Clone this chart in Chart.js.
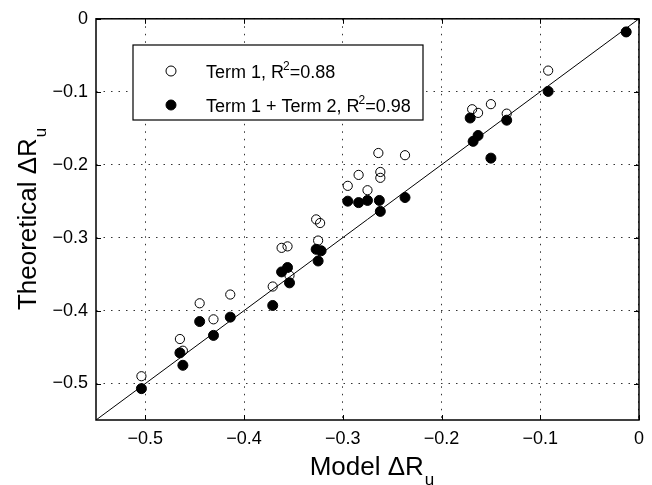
<!DOCTYPE html>
<html>
<head>
<meta charset="utf-8">
<script src="https://cdn.jsdelivr.net/npm/chart.js@4.4.1/dist/chart.umd.min.js"></script>
<style>
  html, body { margin: 0; padding: 0; background: #fff; }
  #wrap { width: 652px; height: 485px; }
</style>
</head>
<body>
<div id="wrap"><canvas id="myChart" width="652" height="485"></canvas></div>
<script>
// Term 1 only (open circles)
const term1X = [-0.504, -0.465, -0.462, -0.445, -0.431, -0.414, -0.371, -0.362, -0.356, -0.354,
                -0.327, -0.323, -0.325, -0.295, -0.284, -0.275, -0.264, -0.262, -0.262, -0.237,
                -0.169, -0.163, -0.150, -0.134, -0.092, -0.013];
const term1Y = [-0.490, -0.439, -0.455, -0.390, -0.412, -0.378, -0.367, -0.314, -0.312, -0.352,
                -0.275, -0.280, -0.304, -0.229, -0.214, -0.235, -0.184, -0.210, -0.218, -0.187,
                -0.124, -0.129, -0.117, -0.130, -0.071, -0.018];
// Term 1 + Term 2 (filled circles)
const term12X = [-0.504, -0.465, -0.462, -0.445, -0.431, -0.414, -0.371, -0.362, -0.356, -0.354,
                 -0.327, -0.322, -0.325, -0.295, -0.284, -0.275, -0.263, -0.262, -0.237,
                 -0.171, -0.163, -0.168, -0.150, -0.134, -0.092, -0.013];
const term12Y = [-0.507, -0.458, -0.475, -0.415, -0.434, -0.409, -0.393, -0.347, -0.341, -0.362,
                 -0.316, -0.318, -0.332, -0.250, -0.252, -0.249, -0.249, -0.264, -0.245,
                 -0.136, -0.160, -0.168, -0.191, -0.139, -0.0995, -0.018];
// 1:1 line ends
const refLine = [-0.55, 0];
const xTicks = [-0.5, -0.4, -0.3, -0.2, -0.1, 0];
const yTicks = [-0.5, -0.4, -0.3, -0.2, -0.1, 0];
const seriesNames = ['Term 1', 'Term 1 + Term 2'];
const r2Values = ['0.88', '0.98'];

const FONT = "'Liberation Sans', Arial, Helvetica, sans-serif";

function fmtTick(v) {
    if (Math.abs(v) < 1e-9) return '0';
    return '\u2212' + Math.abs(v).toFixed(1);
}

function toPoints(xs, ys) {
    return xs.map(function(x, i) { return { x: x, y: ys[i] }; });
}

// box, inner ticks, axis titles with subscript, legend with superscript
const decorPlugin = {
    id: 'decor',
    afterDraw(chart) {
        const ctx = chart.ctx;
        const a = chart.chartArea;
        const xs = chart.scales.x, ys = chart.scales.y;
        ctx.save();
        ctx.strokeStyle = '#000';
        ctx.lineWidth = 1.5;
        ctx.strokeRect(a.left, a.top, a.right - a.left, a.bottom - a.top);
        ctx.lineWidth = 1;
        ctx.beginPath();
        xTicks.forEach(function(v) {
            const px = Math.round(xs.getPixelForValue(v)) + 0.5;
            ctx.moveTo(px, a.bottom); ctx.lineTo(px, a.bottom - 5);
            ctx.moveTo(px, a.top); ctx.lineTo(px, a.top + 5);
        });
        yTicks.forEach(function(v) {
            const py = Math.round(ys.getPixelForValue(v)) + 0.5;
            ctx.moveTo(a.left, py); ctx.lineTo(a.left + 5, py);
            ctx.moveTo(a.right, py); ctx.lineTo(a.right - 5, py);
        });
        ctx.stroke();

        // axis titles
        ctx.fillStyle = '#000';
        ctx.textBaseline = 'alphabetic';
        ctx.textAlign = 'left';
        const big = '26px ' + FONT, small = '17px ' + FONT;
        function titleWidth(main) {
            ctx.font = big;
            const w1 = ctx.measureText(main).width;
            ctx.font = small;
            return w1 + ctx.measureText('u').width;
        }
        function drawTitle(main, x0, base) {
            ctx.font = big;
            ctx.fillText(main, x0, base);
            const w1 = ctx.measureText(main).width;
            ctx.font = small;
            ctx.fillText('u', x0 + w1 + 1, base + 10);
        }
        const xt = 'Model \u0394R';
        const cx = (a.left + a.right) / 2 + 4;
        drawTitle(xt, cx - titleWidth(xt) / 2, 475);

        const yt = 'Theoretical \u0394R';
        const cy = (a.top + a.bottom) / 2;
        ctx.save();
        ctx.translate(36, cy);
        ctx.rotate(-Math.PI / 2);
        drawTitle(yt, -titleWidth(yt) / 2, 0);
        ctx.restore();

        // legend
        const bl = 133, bt = 45, br = 423, bb = 120;
        ctx.fillStyle = '#fff';
        ctx.fillRect(bl, bt, br - bl, bb - bt);
        ctx.strokeStyle = '#000';
        ctx.lineWidth = 1.2;
        ctx.strokeRect(bl, bt, br - bl, bb - bt);
        const rows = [71, 105];
        rows.forEach(function(ry, i) {
            ctx.beginPath();
            ctx.arc(171, ry, 5, 0, Math.PI * 2);
            ctx.lineWidth = 1;
            if (i === 1) { ctx.fillStyle = '#000'; ctx.fill(); }
            ctx.stroke();
            ctx.fillStyle = '#000';
            ctx.font = '18px ' + FONT;
            const lead = seriesNames[i] + ', R';
            const base = ry + 6.5;
            ctx.fillText(lead, 206, base);
            let x = 206 + ctx.measureText(lead).width - 1;
            ctx.font = '12px ' + FONT;
            ctx.fillText('2', x, base - 8);
            x += ctx.measureText('2').width;
            ctx.font = '18px ' + FONT;
            ctx.fillText('=' + r2Values[i], x, base);
        });
        ctx.restore();
    }
};

function axisOpts(ticks, fitFn) {
    return {
        type: 'linear',
        min: -0.55,
        max: 0,
        afterBuildTicks: function(s) { s.ticks = ticks.map(function(v) { return { value: v }; }); },
        afterFit: fitFn,
        grid: { color: '#333', lineWidth: 1, drawTicks: false },
        border: { display: false, dash: [1.5, 6] },
        ticks: {
            color: '#000',
            padding: 8,
            font: { family: FONT, size: 18 },
            callback: fmtTick
        }
    };
}

const ctx = document.getElementById('myChart').getContext('2d');
new Chart(ctx, {
    type: 'scatter',
    data: {
        datasets: [
            {
                label: seriesNames[1],
                data: toPoints(term12X, term12Y),
                backgroundColor: '#000',
                borderColor: '#000',
                borderWidth: 1,
                pointRadius: 5,
                order: 0
            },
            {
                label: seriesNames[0],
                data: toPoints(term1X, term1Y),
                backgroundColor: 'rgba(0,0,0,0)',
                borderColor: '#000',
                borderWidth: 1,
                pointRadius: 4.6,
                order: 1
            },
            {
                label: '1:1',
                data: toPoints(refLine, refLine),
                showLine: true,
                borderColor: '#000',
                borderWidth: 1,
                pointRadius: 0,
                order: 2
            }
        ]
    },
    options: {
        responsive: false,
        animation: false,
        layout: { padding: { left: 0, right: 6, top: 16, bottom: 0 } },
        plugins: { legend: { display: false }, tooltip: { enabled: false } },
        scales: {
            x: axisOpts(xTicks, function(s) { s.height = 65; }),
            y: axisOpts(yTicks, function(s) { s.width = 96; })
        }
    },
    plugins: [decorPlugin]
});
</script>
</body>
</html>
